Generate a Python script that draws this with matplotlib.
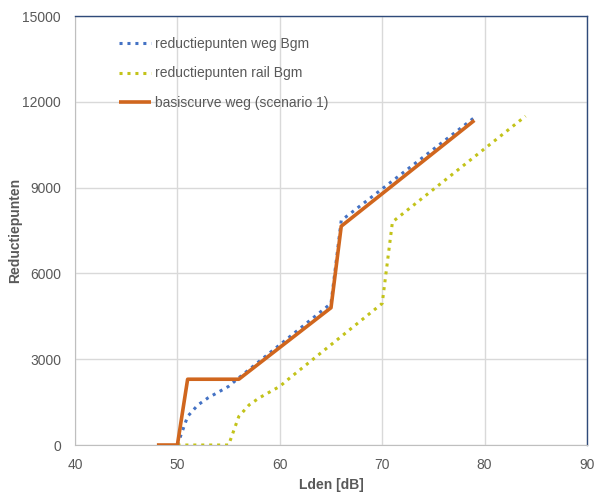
import matplotlib
matplotlib.use("Agg")
import matplotlib.pyplot as plt

# Data
weg_x = [50, 51, 52, 53, 54, 55, 56, 65, 66, 79]
weg_y = [0, 1000, 1400, 1650, 1850, 2050, 2350, 4950, 7850, 11450]
rail_x = [50, 55, 56, 57, 58, 59, 60, 61, 70, 71, 84]
rail_y = [0, 0, 1000, 1400, 1650, 1850, 2050, 2350, 4950, 7800, 11500]
basis_x = [48, 50, 51, 56, 65, 66, 79]
basis_y = [0, 0, 2300, 2300, 4800, 7650, 11350]

x_ticks = [40, 50, 60, 70, 80, 90]
y_ticks = [0, 3000, 6000, 9000, 12000, 15000]

grey = "#595959"
plt.rcParams['font.family'] = ['Liberation Sans', 'DejaVu Sans']

fig = plt.figure(figsize=(5.98, 4.96), dpi=100)
ax = fig.add_axes([0.1254, 0.1028, 0.8562, 0.8649])

ax.plot(weg_x, weg_y, color="#4472C4", lw=2.2, linestyle=(0, (1, 1.6)),
        label="reductiepunten weg Bgm", zorder=3)
ax.plot(rail_x, rail_y, color="#C3C31A", lw=2.2, linestyle=(0, (1, 1.6)),
        label="reductiepunten rail Bgm", zorder=3)
ax.plot(basis_x, basis_y, color="#D0661E", lw=2.6, solid_capstyle="butt",
        label="basiscurve weg (scenario 1)", zorder=4)

ax.set_xlim(40, 90)
ax.set_ylim(0, 15000)
ax.set_xticks(x_ticks)
ax.set_yticks(y_ticks)
ax.grid(True, color="#D9D9D9", lw=1)
ax.set_axisbelow(True)
ax.tick_params(axis="y", length=0, labelsize=10, colors=grey, pad=10)
ax.tick_params(axis="x", length=0, labelsize=10, colors=grey, pad=9)
for s in ["left", "bottom"]:
    ax.spines[s].set_color("#BFBFBF")
for s in ["top", "right"]:
    ax.spines[s].set_color("#2F4A7A")
    ax.spines[s].set_linewidth(1.0)

ax.set_xlabel("Lden [dB]", fontsize=10, fontweight="bold", color=grey, labelpad=5)
ax.set_ylabel("Reductiepunten", fontsize=10, fontweight="bold", color=grey)
ax.yaxis.set_label_coords(-0.104, 0.5)

leg = ax.legend(loc="upper left", bbox_to_anchor=(0.062, 0.98), frameon=False,
                fontsize=10, labelcolor=grey, handlelength=2.3, handletextpad=0.3,
                labelspacing=1.1)

fig.savefig("out.png", dpi=100)
